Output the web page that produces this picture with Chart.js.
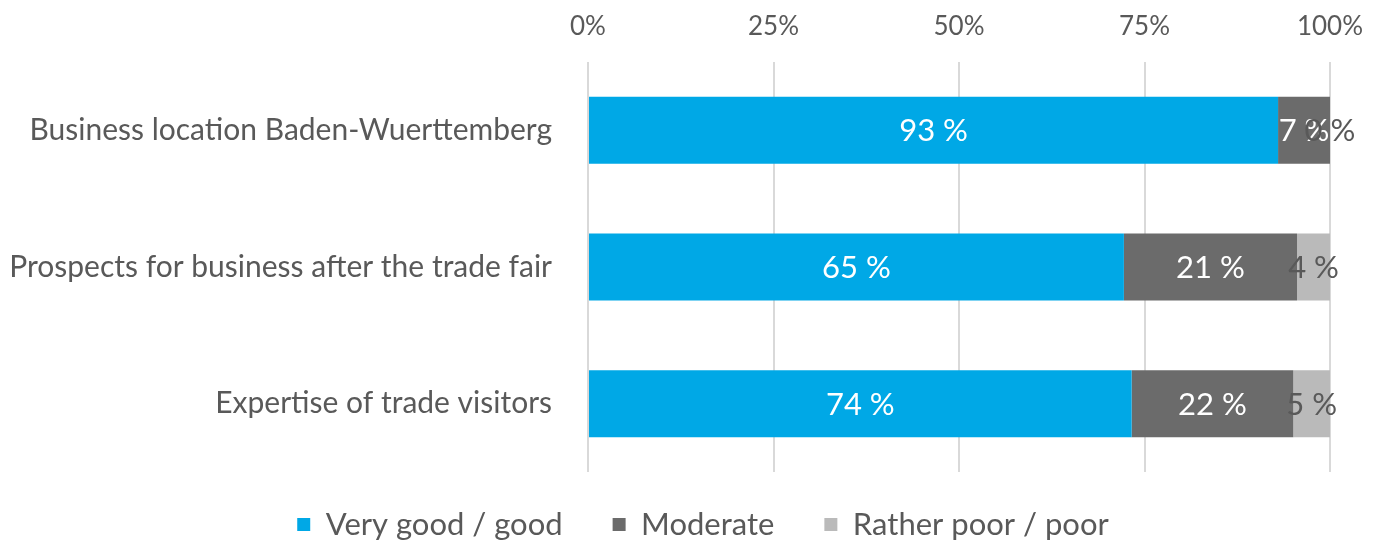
<!DOCTYPE html>
<html>
<head>
<meta charset="utf-8">
<script src="https://cdn.jsdelivr.net/npm/chart.js@4/dist/chart.umd.min.js"></script>
<style>
  html, body { margin: 0; padding: 0; background: #fff; }
  #wrap { width: 1380px; height: 542px; }
</style>
</head>
<body>
<div id="wrap"><canvas id="bewertung"></canvas></div>
<script>
// Daten
var kategorien = ["Business location Baden-Wuerttemberg", "Prospects for business after the trade fair", "Expertise of trade visitors"];
var serien = ["Very good / good", "Moderate", "Rather poor / poor"];
var gut = [93, 65, 74];
var mittel = [7, 21, 22];
var schlecht = [0, 4, 5];
var xTicks = ["0%", "25%", "50%", "75%", "100%"];
var farben = ["#00a8e6", "#6b6b6b", "#bababa"];
var textFarben = ["#ffffff", "#ffffff", "#595959"];

// auf 100 % normieren (Excel-Stil)
var werte = [gut, mittel, schlecht];
var summen = kategorien.map(function (k, i) { return gut[i] + mittel[i] + schlecht[i]; });
function anteil(arr) {
  return arr.map(function (v, i) { return v / summen[i] * 100; });
}

var schrift = "Lato, 'Open Sans', sans-serif";

// Beschriftung in den Balken
var wertLabels = {
  id: "wertLabels",
  afterDatasetsDraw: function (chart) {
    var ctx = chart.ctx;
    ctx.save();
    ctx.font = "31px " + schrift;
    ctx.textAlign = "center";
    ctx.textBaseline = "middle";
    chart.data.datasets.forEach(function (ds, d) {
      chart.getDatasetMeta(d).data.forEach(function (bar, i) {
        ctx.fillStyle = textFarben[d];
        ctx.fillText(werte[d][i] + " %", (bar.x + bar.base) / 2, bar.y + 1);
      });
    });
    ctx.restore();
  }
};

// Legende: feste Hoehe und etwas verschoben (wie im Original)
var legendeHoehe = {
  id: "legendeHoehe",
  beforeInit: function (chart) {
    var fit = chart.legend.fit;
    chart.legend.fit = function () {
      fit.call(this);
      this.height = 70;
    };
  },
  afterLayout: function (chart) {
    var l = chart.legend;
    l.top -= 13;
    l.left += 38;
    l.right += 38;
  }
};

new Chart("bewertung", {
  type: "bar",
  data: {
    labels: kategorien,
    datasets: serien.map(function (s, d) {
      return {
        label: s,
        data: anteil(werte[d]),
        backgroundColor: farben[d],
        borderWidth: 0,
        categoryPercentage: 1,
        barPercentage: 0.49
      };
    })
  },
  options: {
    indexAxis: "y",
    responsive: true,
    maintainAspectRatio: false,
    animation: false,
    layout: { padding: { top: 0, right: 50, left: 0, bottom: 0 } },
    scales: {
      x: {
        position: "top",
        stacked: true,
        min: 0,
        max: 100,
        afterFit: function (s) {
          s.height = 62;
          s.paddingLeft = 0;
          s.paddingRight = 0;
        },
        ticks: {
          stepSize: 25,
          color: "#595959",
          font: { size: 26, family: schrift },
          padding: 20,
          callback: function (v) { return xTicks[v / 25]; }
        },
        grid: { color: "#d9d9d9", lineWidth: 2, drawTicks: false },
        border: { display: false }
      },
      y: {
        stacked: true,
        afterFit: function (s) { s.width = 588; },
        ticks: {
          color: "#595959",
          font: { size: 30, family: schrift },
          padding: 28
        },
        grid: { display: false },
        border: { display: false }
      }
    },
    plugins: {
      legend: {
        position: "bottom",
        labels: {
          color: "#595959",
          font: { size: 31, family: schrift },
          boxWidth: 13,
          boxHeight: 13,
          padding: 50
        }
      },
      tooltip: { enabled: false }
    }
  },
  plugins: [wertLabels, legendeHoehe]
});
</script>
</body>
</html>
